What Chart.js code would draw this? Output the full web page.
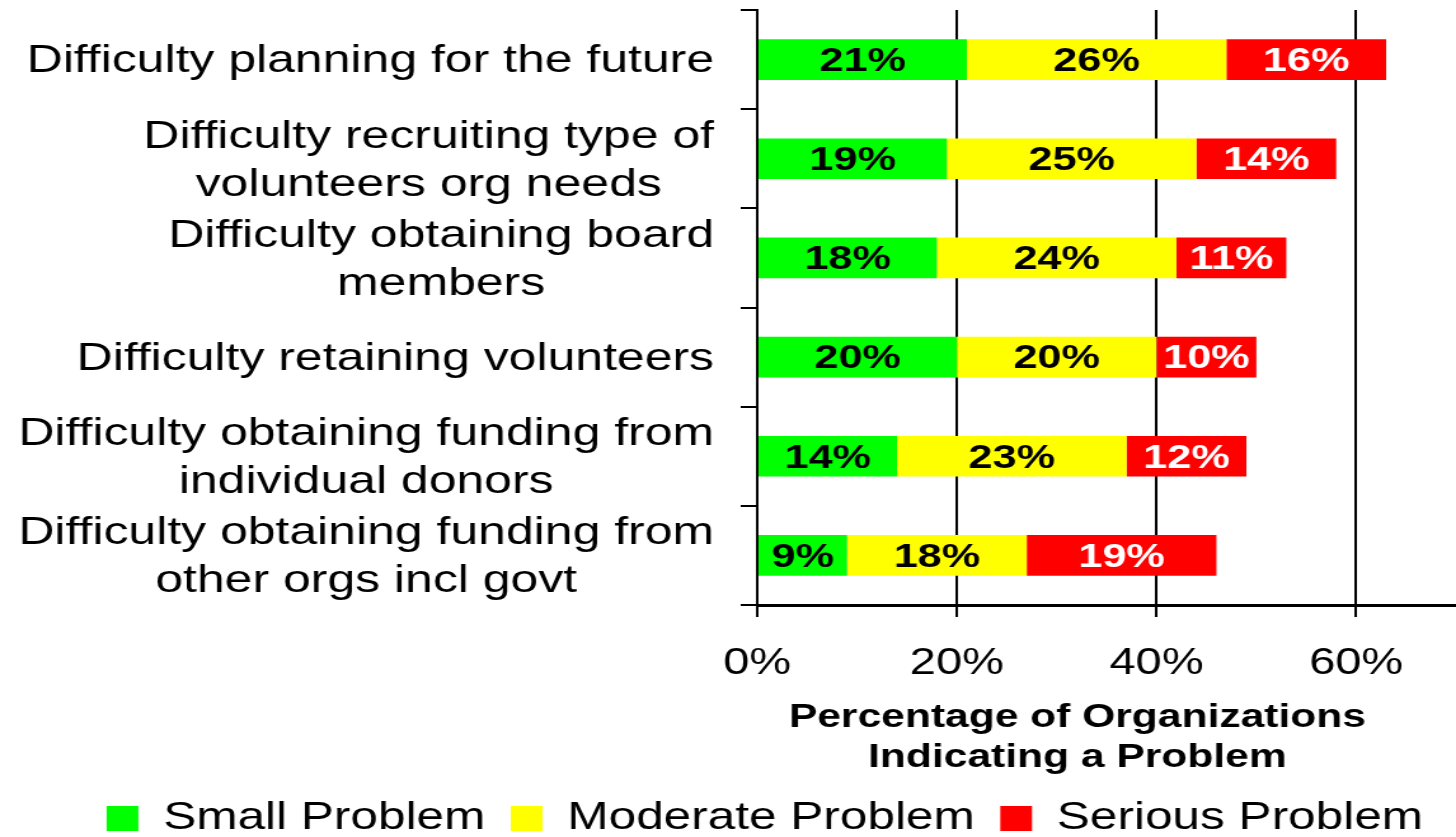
<!DOCTYPE html>
<html>
<head>
<meta charset="utf-8">
<script src="https://cdn.jsdelivr.net/npm/chart.js@4"></script>
<style>
  html, body { margin: 0; padding: 0; background: #fff; overflow: hidden; }
  #wrap { width: 1456px; height: 837px; }
  /* the reference is stretched sideways, so the canvas is drawn narrow and widened by css */
  #chart { width: 1456px !important; height: 837px !important; display: block; }
</style>
</head>
<body>
<div id="wrap"><canvas id="chart" width="1146" height="837" style="width:1456px;height:837px"></canvas></div>
<script>
const categories = [
  ['Difficulty planning for the future'],
  ['Difficulty recruiting type of', 'volunteers org needs'],
  ['Difficulty obtaining board', 'members'],
  ['Difficulty retaining volunteers'],
  ['Difficulty obtaining funding from', 'individual donors'],
  ['Difficulty obtaining funding from', 'other orgs incl govt']
];
const seriesNames = ['Small Problem', 'Moderate Problem', 'Serious Problem'];
const smallProblem = [21, 19, 18, 20, 14, 9];
const moderateProblem = [26, 25, 24, 20, 23, 18];
const seriousProblem = [16, 14, 11, 10, 12, 19];
const xTicks = [0, 20, 40, 60];
const axisTitle = ['Percentage of Organizations', 'Indicating a Problem'];

const FONT = "'Liberation Sans', Arial, sans-serif";
Chart.defaults.font.family = FONT;
Chart.defaults.color = '#000';

const colors = ['#00ff00', '#ffff00', '#ff0000'];
const labelColors = ['#000', '#000', '#fff'];
const PAD_LEFT = 58;
const PAD_BOTTOM = -11;

// bar value labels, category labels (right-aligned block, centered lines) and the axis title
const labelPlugin = {
  id: 'labels',
  afterDatasetsDraw(chart) {
    const ctx = chart.ctx;
    ctx.save();
    ctx.font = 'bold 34px ' + FONT;
    ctx.textAlign = 'center';
    ctx.textBaseline = 'middle';
    chart.data.datasets.forEach((ds, i) => {
      const meta = chart.getDatasetMeta(i);
      meta.data.forEach((bar, j) => {
        const cx = (bar.x + bar.base) / 2;
        ctx.fillStyle = labelColors[i];
        ctx.fillText(ds.data[j] + '%', cx, bar.y + 2);
      });
    });
    ctx.restore();
  },
  afterDraw(chart) {
    const ctx = chart.ctx;
    const y = chart.scales.y;
    ctx.save();
    ctx.font = '39.3px ' + FONT;
    ctx.fillStyle = '#000';
    ctx.textAlign = 'center';
    ctx.textBaseline = 'middle';
    const right = 562;
    const lineH = 48;
    categories.forEach((lines, i) => {
      const w = Math.max(...lines.map(l => ctx.measureText(l).width));
      const cy = y.getPixelForValue(i) + 2;
      lines.forEach((l, k) => {
        ctx.fillText(l, right - w / 2, cy + (k - (lines.length - 1) / 2) * lineH);
      });
    });
    ctx.font = 'bold 33.5px ' + FONT;
    ctx.fillText(axisTitle[0], 848, 718);
    ctx.fillText(axisTitle[1], 848, 758);
    ctx.restore();
  }
};

new Chart(document.getElementById('chart'), {
  type: 'bar',
  data: {
    labels: categories,
    datasets: [
      { label: seriesNames[0], data: smallProblem, backgroundColor: colors[0], borderColor: colors[0], borderWidth: 0 },
      { label: seriesNames[1], data: moderateProblem, backgroundColor: colors[1], borderColor: colors[1], borderWidth: 0 },
      { label: seriesNames[2], data: seriousProblem, backgroundColor: colors[2], borderColor: colors[2], borderWidth: 0 }
    ]
  },
  options: {
    indexAxis: 'y',
    responsive: false,
    devicePixelRatio: 1,
    animation: false,
    layout: { padding: { top: 10, left: PAD_LEFT, right: 0, bottom: PAD_BOTTOM } },
    datasets: { bar: { categoryPercentage: 1, barPercentage: 0.41 } },
    scales: {
      x: {
        stacked: true,
        min: 0,
        max: 70,
        afterBuildTicks: s => { s.ticks = xTicks.map(v => ({ value: v })); },
        afterFit: s => { s.height = s.chart.height - 605 - PAD_BOTTOM - (s.chart.legend ? s.chart.legend.height : 0); },
        ticks: {
          callback: v => v + '%',
          font: { size: 37 },
          color: '#000',
          padding: 25,
          maxRotation: 0
        },
        grid: { color: '#000', lineWidth: 2, tickLength: 12, drawTicks: true },
        border: { display: true, color: '#000', width: 3 }
      },
      y: {
        stacked: true,
        afterFit: s => { s.width = 596 - PAD_LEFT; },
        ticks: { display: false },
        grid: { drawOnChartArea: false, drawTicks: true, tickLength: 13, color: '#000', lineWidth: 2, offset: true },
        border: { display: true, color: '#000', width: 2 }
      }
    },
    plugins: {
      legend: {
        position: 'bottom',
        labels: {
          font: { size: 39 },
          color: '#000',
          boxWidth: 25,
          boxHeight: 25,
          padding: 20
        }
      },
      tooltip: { enabled: false }
    }
  },
  plugins: [labelPlugin]
});
</script>
</body>
</html>
